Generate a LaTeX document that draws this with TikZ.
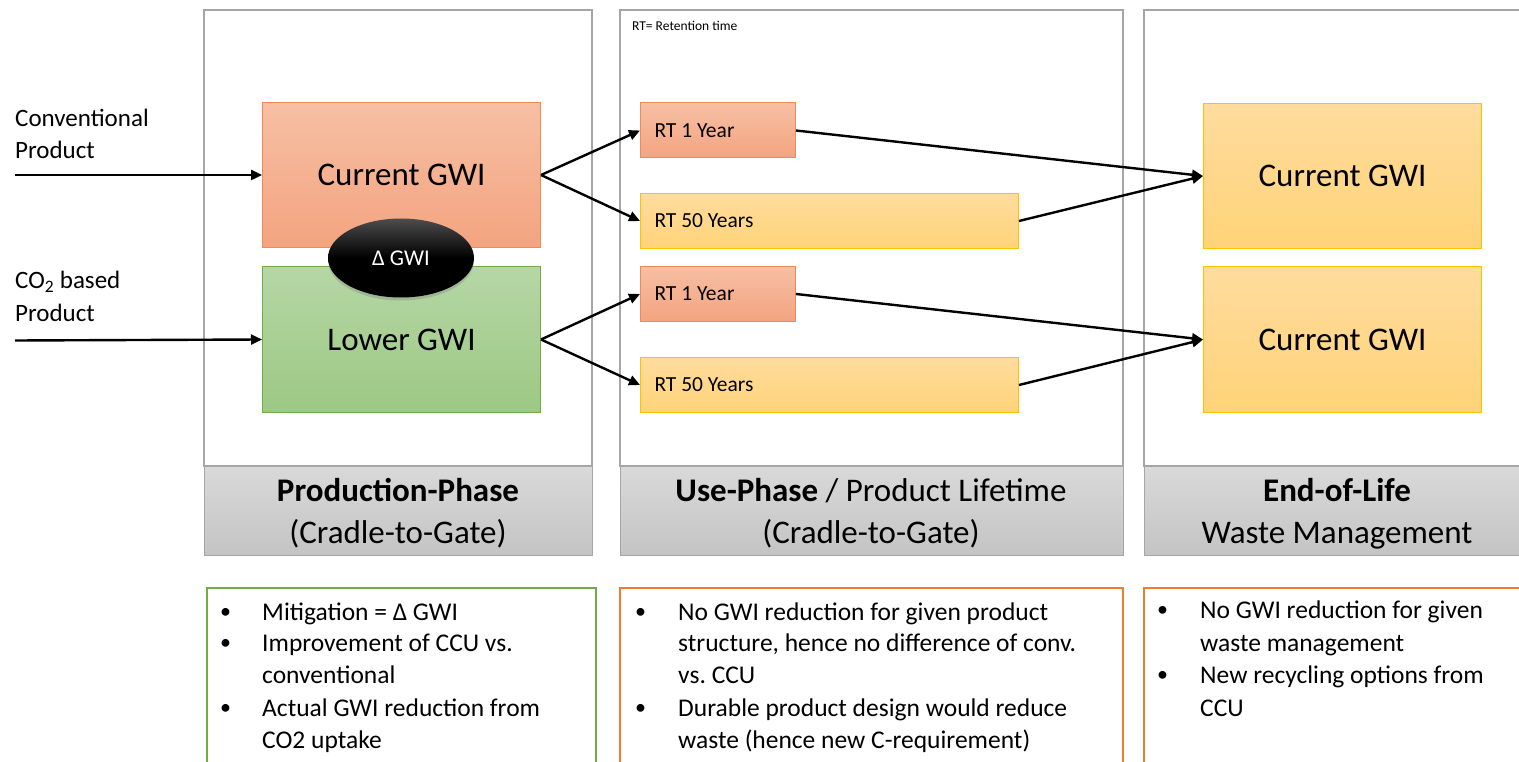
\documentclass[tikz,border=0pt]{standalone}
\usepackage{fontspec}
\setmainfont{Carlito}
\frenchspacing
\usetikzlibrary{arrows.meta,shapes.geometric,shadows}
\definecolor{framegray}{HTML}{A6A6A6}
\definecolor{bandtop}{HTML}{D9D9D9}
\definecolor{bandbot}{HTML}{C4C4C4}
\definecolor{otop}{HTML}{F7BFA4}
\definecolor{obot}{HTML}{F3A480}
\definecolor{oline}{HTML}{F08A55}
\definecolor{gtop}{HTML}{B5D7A5}
\definecolor{gbot}{HTML}{9DC884}
\definecolor{gline}{HTML}{70AD47}
\definecolor{ytop}{HTML}{FFDC9E}
\definecolor{ybot}{HTML}{FFD378}
\definecolor{yline}{HTML}{FFC000}
\definecolor{boxorange}{HTML}{ED7D31}
\begin{document}
\begin{tikzpicture}[x=1pt,y=-1pt,
  colframe/.style={draw=framegray, line width=1.5pt},
  band/.style={draw=framegray, line width=1pt, top color=bandtop, bottom color=bandbot},
  notebox/.style={line width=2pt},
  obox/.style={draw=oline, line width=1pt, top color=otop, bottom color=obot, inner sep=0pt, anchor=north west},
  gbox/.style={draw=gline, line width=1pt, top color=gtop, bottom color=gbot, inner sep=0pt, anchor=north west},
  ybox/.style={draw=yline, line width=1pt, top color=ytop, bottom color=ybot, inner sep=0pt, anchor=north west},
  big/.style={font=\fontsize{33}{40}\selectfont},
  rtfont/.style={font=\fontsize{21.5}{26}\selectfont, inner xsep=14pt, inner ysep=0pt},
  head/.style={font=\fontsize{33}{40}\selectfont, anchor=base, inner sep=0pt},
  lab/.style={font=\fontsize{25}{31}\selectfont, anchor=base west, inner sep=0pt},
  bl/.style={font=\fontsize{25.5}{32}\selectfont, anchor=base west, inner sep=0pt},
  dot/.style={font=\fontsize{22}{32}\selectfont, anchor=base west, inner sep=0pt},
  arr/.style={line width=2.4pt, -{Triangle[length=11pt,width=10pt]}}
]
\useasboundingbox (0,0) rectangle (1519,762);
\clip (0,0) rectangle (1519,762);

% column frames
\draw[colframe] (204,10) rectangle (592,466);
\draw[colframe] (620,10) rectangle (1123,466);
\draw[colframe] (1144,10) rectangle (1530,466);
\draw[band] (204,466) rectangle (592,555);
\draw[band] (620,466) rectangle (1123,555);
\draw[band] (1144,466) rectangle (1530,555);

% headers
\node[head] (h1a) at (398,501) {\textbf{Production-Phase}};
\node[head] (h1b) at (398,543) {(Cradle-to-Gate)};
\node[head] (h2a) at (871,501) {\textbf{Use-Phase} / Product Lifetime};
\node[head] (h2b) at (871,543) {(Cradle-to-Gate)};
\node[head] (h3a) at (1337,501) {\textbf{End-of-Life}};
\node[head] (h3b) at (1337,543) {Waste Management};

% note
\node[font=\fontsize{13.5}{16}\selectfont, anchor=base west, inner sep=0pt] (rtnote) at (632,31) {RT= Retention time};

% production boxes
\node[obox, minimum width=278pt, minimum height=145pt, big] (cur) at (262,102) {Current GWI};
\node[gbox, minimum width=278pt, minimum height=146pt, big] (low) at (262,266) {Lower GWI};
\node[ellipse, minimum width=146pt, minimum height=79pt, top color=black!70, bottom color=black, middle color=black, draw=none,
      drop shadow={shadow xshift=0pt, shadow yshift=-3pt, opacity=0.35},
      text=white, font=\fontsize{22.5}{26}\selectfont] (delta) at (401,258) {Δ GWI};

% use-phase boxes
\node[obox, minimum height=55pt, rtfont] (rt1a) at (640,102.5) {\makebox[127pt][l]{RT 1 Year}};
\node[ybox, minimum height=55pt, rtfont] (rt50a) at (640,193) {\makebox[350pt][l]{RT 50 Years}};
\node[obox, minimum height=55pt, rtfont] (rt1b) at (640,266) {\makebox[127pt][l]{RT 1 Year}};
\node[ybox, minimum height=55pt, rtfont] (rt50b) at (640,357) {\makebox[350pt][l]{RT 50 Years}};

% end-of-life boxes
\node[ybox, minimum width=278pt, minimum height=145pt, big] (eol1) at (1203,103) {Current GWI};
\node[ybox, minimum width=278pt, minimum height=146pt, big] (eol2) at (1203,266) {Current GWI};

% input labels
\node[lab] (conv1) at (15,127) {Conventional};
\node[lab] (conv2) at (15,159) {Product};
\node[lab] (co2a) at (15,289) {CO\textsubscript{2} based};
\node[lab] (co2b) at (15,321) {Product};
\coordinate (in1) at (15,175);
\coordinate (in2) at (15,340.5);

% arrows
\draw[arr] (in1) -- (cur.west);
\draw[arr] (in2) -- (low.west);
\draw[arr] (cur.east) -- (rt1a.west);
\draw[arr] (cur.east) -- (rt50a.west);
\draw[arr] (low.east) -- (rt1b.west);
\draw[arr] (low.east) -- (rt50b.west);
\draw[arr] (rt1a.east) -- (eol1.west);
\draw[arr] (rt50a.east) -- (eol1.west);
\draw[arr] (rt1b.east) -- (eol2.west);
\draw[arr] (rt50b.east) -- (eol2.west);

% bottom note boxes
\draw[notebox, draw=gline] (207,588) rectangle (596,800);
\draw[notebox, draw=boxorange] (620,588) rectangle (1123,800);
\draw[notebox, draw=boxorange] (1144,588) rectangle (1540,800);

% column 1 bullets
\node[dot] (p1d) at (220,618) {•};
\node[bl] (p1) at (262,620) {Mitigation = Δ GWI};
\node[dot] (p2d) at (220,649.7) {•};
\node[bl] (p2) at (262,651.7) {Improvement of CCU vs.};
\node[bl] (p2b) at (262,683) {conventional};
\node[dot] (p3d) at (220,714.7) {•};
\node[bl] (p3) at (262,716.7) {Actual GWI reduction from};
\node[bl] (p3b) at (262,748) {CO2 uptake};

% column 2 bullets
\node[dot] (u1d) at (635,618) {•};
\node[bl] (u1) at (678,620) {No GWI reduction for given product};
\node[bl] (u1b) at (678,651.7) {structure, hence no difference of conv.};
\node[bl] (u1c) at (678,683) {vs. CCU};
\node[dot] (u2d) at (635,714.7) {•};
\node[bl] (u2) at (678,716.7) {Durable product design would reduce};
\node[bl] (u2b) at (678,748) {waste (hence new C-requirement)};

% column 3 bullets
\node[dot] (e1d) at (1157,616) {•};
\node[bl] (e1) at (1200,618) {No GWI reduction for given};
\node[bl] (e1b) at (1200,651.7) {waste management};
\node[dot] (e2d) at (1157,681) {•};
\node[bl] (e2) at (1200,683) {New recycling options from};
\node[bl] (e2b) at (1200,716.7) {CCU};
\end{tikzpicture}
\end{document}
